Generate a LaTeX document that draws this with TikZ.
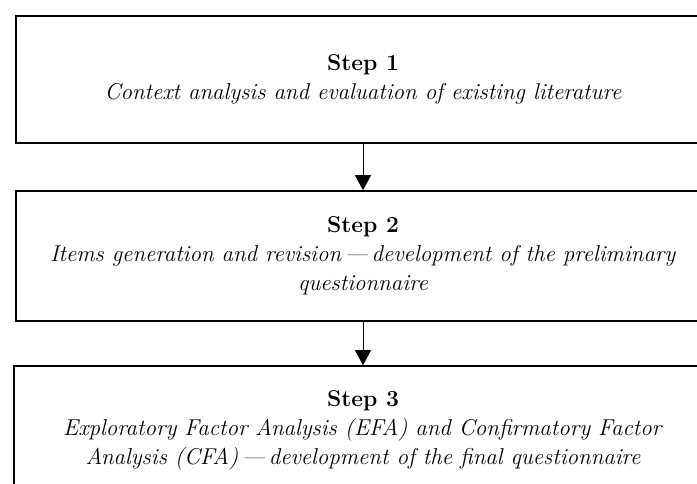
\documentclass[tikz,border=0pt]{standalone}
\usepackage{tikz}
\usetikzlibrary{arrows.meta}

\tikzset{
  stepbox/.style={draw, line width=0.8bp, minimum width=347bp, align=center, inner sep=0pt,
    font=\fontsize{11.5}{14.5}\selectfont},
  steparrow/.style={line width=0.5bp, -{Triangle[width=8bp,length=7.5bp]}}
}

\begin{document}
\begin{tikzpicture}[x=0.5bp,y=-0.5bp]
    \useasboundingbox (0,0) rectangle (697,484);
    \clip (0,0) rectangle (697,484);
    \node[stepbox, minimum height=63.5bp] (step1) at (363,79.5)
      {\textbf{Step 1}\\ \textit{Context analysis and evaluation of existing literature}};
    \node[stepbox, minimum height=65bp] (step2) at (363,256)
      {\textbf{Step 2}\\ \textit{Items generation and revision\,---\,development of the preliminary}\\
       \textit{questionnaire}};
    \node[stepbox, minimum height=128bp/2, minimum width=349bp] (step3) at (363,430)
      {\textbf{Step 3}\\ \textit{Exploratory Factor Analysis (EFA) and Confirmatory Factor}\\
       \textit{Analysis (CFA)\,---\,development of the final questionnaire}};
    \draw[steparrow] (step1) -- (step2);
    \draw[steparrow] (step2) -- (step3);
\end{tikzpicture}
\end{document}
